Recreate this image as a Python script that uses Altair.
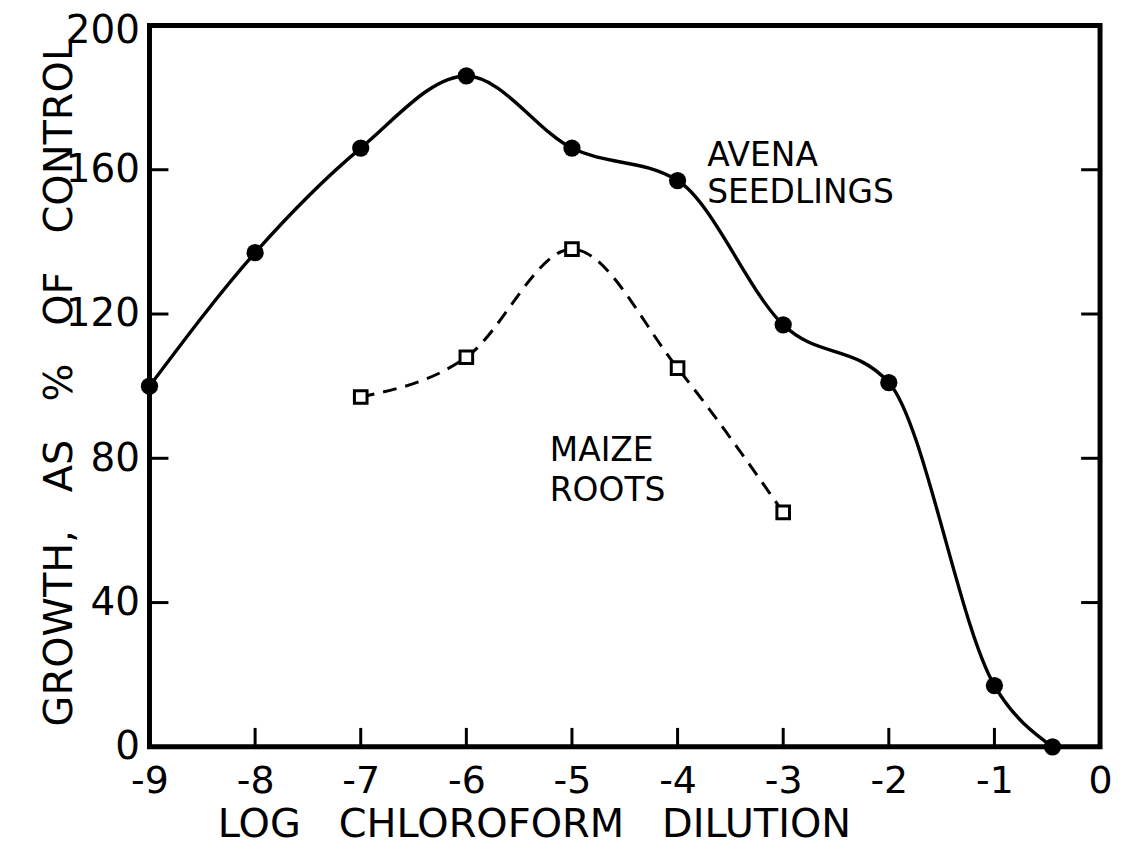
import altair as alt
import pandas as pd

# ---- data ----
avena_x = [-9, -8, -7, -6, -5, -4, -3, -2, -1, -0.45]
avena_y = [100, 137, 166, 186, 166, 157, 117, 101, 17, 0]
maize_x = [-7, -6, -5, -4, -3]
maize_y = [97, 108, 138, 105, 65]
x_tick_labels = [-9, -8, -7, -6, -5, -4, -3, -2, -1, 0]
y_tick_labels = [0, 40, 80, 120, 160, 200]
x_inner_ticks = [-8, -7, -6, -5, -4, -3, -2, -1]
y_inner_ticks = [40, 80, 120, 160]

avena = pd.DataFrame({"x": avena_x, "y": avena_y})
maize = pd.DataFrame({"x": maize_x, "y": maize_y})
xt = pd.DataFrame({"x": x_inner_ticks})
yt = pd.DataFrame({"y": y_inner_ticks})

W, H = 954, 724
FONT = "DejaVu Sans"
sp = "\u00a0\u00a0\u00a0"

xs = alt.Scale(domain=[-9, 0], nice=False, zero=False)
ys = alt.Scale(domain=[0, 200], nice=False, zero=False)

x_axis = alt.Axis(
    values=x_tick_labels, labelExpr="'' + datum.value", ticks=False, domain=False,
    grid=False, tickSize=0, labelPadding=16, labelFontSize=38, labelFont=FONT,
    labelColor="black", title="LOG" + sp + "CHLOROFORM" + sp + "DILUTION",
    titleFont=FONT, titleFontSize=40, titleFontWeight="normal", titleColor="black",
    titleAnchor="start", titleAlign="left", titleX=68, titleY=90,
    titleBaseline="alphabetic", labelFlush=False, labelOverlap=False,
)
y_axis = alt.Axis(
    values=y_tick_labels, ticks=False, domain=False, grid=False, tickSize=0,
    labelPadding=10, labelFontSize=39, labelFont=FONT, labelColor="black",
    labelOffset={"condition": {"test": "datum.value == 200", "value": 5}, "value": 0},
    title="GROWTH," + sp + "AS" + sp + "%" + sp + "OF" + sp + "CONTROL",
    titleFont=FONT, titleFontSize=40, titleFontWeight="normal", titleColor="black",
    titleAngle=-90, titleX=-90, titleY=358, titleAlign="center",
    titleBaseline="middle", labelFlush=False, labelOverlap=False,
)

X = alt.X("x:Q", scale=xs, axis=x_axis)
Y = alt.Y("y:Q", scale=ys, axis=y_axis)

avena_line = alt.Chart(avena).mark_line(
    color="black", strokeWidth=3.4, interpolate="monotone"
).encode(x=X, y=Y)

avena_pts = alt.Chart(avena).mark_point(
    shape="circle", filled=True, color="black", size=300, opacity=1
).encode(x=X, y=Y)

maize_line = alt.Chart(maize).mark_line(
    color="black", strokeWidth=3, strokeDash=[14, 9], interpolate="monotone"
).encode(x=X, y=Y)

maize_pts = alt.Chart(maize).mark_point(
    shape="square", filled=True, fill="white", stroke="black", strokeWidth=3,
    size=160, opacity=1
).encode(x=X, y=Y)

xticks = alt.Chart(xt).mark_rule(color="black", strokeWidth=3).encode(
    x=X, y=alt.value(H), y2=alt.value(H - 19)
)
yticks_l = alt.Chart(yt).mark_rule(color="black", strokeWidth=3).encode(
    y=Y, x=alt.value(0), x2=alt.value(19)
)
yticks_r = alt.Chart(yt).mark_rule(color="black", strokeWidth=3).encode(
    y=Y, x=alt.value(W), x2=alt.value(W - 19)
)

avena_label = alt.Chart(pd.DataFrame({"t": [["AVENA", "SEEDLINGS"]]})).mark_text(
    align="left", baseline="alphabetic", font=FONT, fontSize=33, color="black",
    lineHeight=37
).encode(x=alt.datum(-3.72, scale=xs), y=alt.datum(161, scale=ys), text="t")

maize_label = alt.Chart(pd.DataFrame({"t": [["MAIZE", "ROOTS"]]})).mark_text(
    align="left", baseline="alphabetic", font=FONT, fontSize=33, color="black",
    lineHeight=40
).encode(x=alt.datum(-5.21, scale=xs), y=alt.datum(79.3, scale=ys), text="t")

chart = alt.layer(
    avena_line, maize_line, xticks, yticks_l, yticks_r,
    avena_pts, maize_pts, avena_label, maize_label
).properties(
    width=W, height=H,
    autosize=alt.AutoSizeParams(type="none"),
    padding={"left": 142, "top": 16, "right": 14, "bottom": 100},
    background="white",
).configure_view(stroke="black", strokeWidth=5)

chart.save("out.html", embed_options={"renderer": "svg", "actions": False})
